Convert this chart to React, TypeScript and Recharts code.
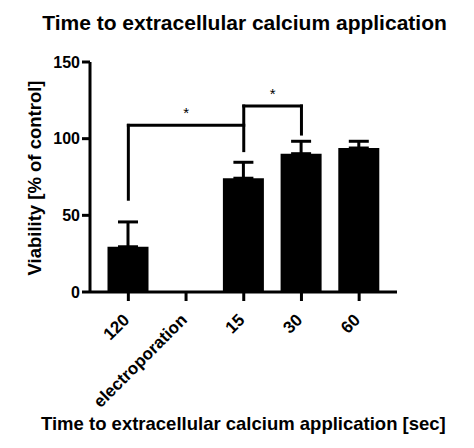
import { BarChart, Bar, XAxis, YAxis, ErrorBar, ReferenceLine, Label } from 'recharts';

const FONT = '"Liberation Sans", Arial, Helvetica, sans-serif';

const categories = ['120', 'electroporation', '15', '30', '60'];
const viability = [29.5, 0, 74.2, 90.2, 93.9];
const semUpper = [16.2, 0, 10.4, 8.1, 4.4];
const yTicks = [0, 50, 100, 150];

// significance brackets, in data units: from [category, value] to [category, value]
const bracketFrom: [string, number][] = [
    ['120', 60.5],
    ['120', 108.7],
    ['15', 92.2],
    ['15', 121.3],
    ['30', 103],
];
const bracketTo: [string, number][] = [
    ['120', 108.7],
    ['15', 108.7],
    ['15', 121.3],
    ['30', 121.3],
    ['30', 121.3],
];
const bracketMarks = ['', '*', '', '*', ''];

const chartData = categories.map((label, i) => ({
    label,
    value: viability[i],
    err: [0, semUpper[i]],
}));

function RotatedTick({ x, y, payload }: any) {
    return (
        <g transform={`translate(${x + 2},${y + 18})`}>
            <text
                textAnchor='end'
                transform='rotate(-45)'
                fontSize={17}
                fontWeight='bold'
                fontFamily={FONT}
                fill='#000'
            >
                {payload.value}
            </text>
        </g>
    );
}

export default function App() {
    return (
        <div style={{ position: 'absolute', left: 0, top: 0, width: 474, height: 448, background: '#fff' }}>
            <BarChart
                width={474}
                height={448}
                data={chartData}
                margin={{ top: 62, right: 77, bottom: 126, left: 30 }}
            >
                <XAxis
                    dataKey='label'
                    height={30}
                    interval={0}
                    padding={{ left: 9.5, right: 9 }}
                    axisLine={{ stroke: '#000', strokeWidth: 3 }}
                    tickLine={{ stroke: '#000', strokeWidth: 3 }}
                    tickSize={9}
                    tickMargin={2}
                    tick={<RotatedTick />}
                />
                <YAxis
                    width={60}
                    domain={[0, 150]}
                    ticks={yTicks}
                    interval={0}
                    axisLine={{ stroke: '#000', strokeWidth: 3 }}
                    tickLine={{ stroke: '#000', strokeWidth: 3 }}
                    tickSize={8}
                    tickMargin={2}
                    tick={{ fill: '#000', fontSize: 16, fontWeight: 700, fontFamily: FONT }}
                />
                <Bar dataKey='value' fill='#000' barSize={41} isAnimationActive={false}>
                    <ErrorBar
                        dataKey='err'
                        direction='y'
                        width={10}
                        stroke='#000'
                        strokeWidth={3}
                        isAnimationActive={false}
                    />
                </Bar>
                {bracketFrom.map((from, i) => (
                    <ReferenceLine
                        key={`bracket-${i}`}
                        segment={[
                            { x: from[0], y: from[1] },
                            { x: bracketTo[i][0], y: bracketTo[i][1] },
                        ]}
                        stroke='#000'
                        strokeWidth={3}
                        strokeLinecap='square'
                        ifOverflow='visible'
                    >
                        {bracketMarks[i] && (
                            <Label
                                value={bracketMarks[i]}
                                position='top'
                                offset={7}
                                fontSize={15}
                                fontFamily={FONT}
                                fill='#000'
                            />
                        )}
                    </ReferenceLine>
                ))}
            </BarChart>
            <svg
                width={474}
                height={448}
                style={{ position: 'absolute', left: 0, top: 0, pointerEvents: 'none' }}
            >
                <text x={244.5} y={30} textAnchor='middle' fontSize={21} fontWeight='bold' fontFamily={FONT} fill='#000'>
                    Time to extracellular calcium application
                </text>
                <text
                    transform='translate(41,178) rotate(-90)'
                    textAnchor='middle'
                    fontSize={18.5}
                    fontWeight='bold'
                    fontFamily={FONT}
                    fill='#000'
                >
                    Viability [% of control]
                </text>
                <text x={243.4} y={430} textAnchor='middle' fontSize={18.5} fontWeight='bold' fontFamily={FONT} fill='#000'>
                    Time to extracellular calcium application [sec]
                </text>
            </svg>
        </div>
    );
}
